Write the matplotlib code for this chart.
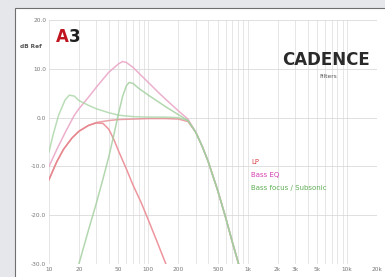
import matplotlib
matplotlib.use("Agg")
import matplotlib.pyplot as plt
from matplotlib.patches import Rectangle

# --- data (frequency in Hz, level in dB) ---
lp_low_freq = [10, 12, 14, 17, 20, 25, 30, 35, 40, 45, 50, 60, 70, 85, 100, 120, 150]
lp_low_db = [-12.7, -9.0, -6.5, -4.2, -2.8, -1.6, -1.1, -1.2, -2.4, -4.5, -6.8,
             -10.5, -13.8, -17.5, -21.0, -25.0, -30.0]

lp_high_freq = [10, 12, 14, 17, 20, 25, 30, 40, 50, 70, 100, 150, 200, 250,
                300, 350, 400, 500, 600, 700, 810]
lp_high_db = [-12.7, -9.0, -6.5, -4.2, -2.8, -1.6, -1.0, -0.6, -0.4, -0.3, -0.2,
              -0.2, -0.3, -0.8, -3.0, -6.0, -9.0, -15.0, -20.5, -25.5, -30.0]

bass_eq_freq = [10, 12, 14.6, 18, 20, 25, 31, 40, 50, 55, 60, 70, 85, 100, 130,
                160, 200, 250, 300, 350, 400, 500, 600, 700, 810]
bass_eq_db = [-10.0, -6.5, -3.0, 0.5, 1.8, 4.2, 6.6, 9.3, 11.0, 11.5, 11.3, 10.3,
              8.6, 7.2, 4.9, 3.2, 1.4, -0.3, -3.0, -6.0, -9.0, -15.0, -20.5,
              -25.5, -30.0]

focus_freq = [10, 11, 12.5, 14.5, 16, 18, 20, 25, 30, 40, 50, 70, 100, 150, 200,
              250, 300, 350, 400, 500, 600, 700, 810]
focus_db = [-7.0, -3.5, 0.5, 3.6, 4.6, 4.4, 3.5, 2.5, 1.8, 1.0, 0.5, 0.2, 0.1,
            0.1, 0.0, -0.6, -3.0, -6.0, -9.0, -15.0, -20.5, -25.5, -30.0]

subsonic_freq = [20, 25, 30, 35, 40, 45, 50, 55, 60, 64, 70, 80, 100, 150, 220,
                 250, 300, 350, 400, 500, 600, 700, 810]
subsonic_db = [-30.0, -23.0, -17.5, -12.5, -8.0, -3.5, 0.8, 4.3, 6.5, 7.2, 7.0,
               6.0, 4.6, 2.2, 0.1, -0.6, -3.0, -6.0, -9.0, -15.0, -20.5, -25.5,
               -30.0]

x_ticks = [10, 20, 50, 100, 200, 500, 1000, 2000, 3000, 5000, 10000, 20000]
x_labels = ["10", "20", "50", "100", "200", "500", "1k", "2k", "3k", "5k", "10k", "20k"]
y_ticks = [-30, -20, -10, 0, 10, 20]
y_labels = ["-30.0", "-20.0", "-10.0", "0.0", "10.0", "20.0"]

legend_names = ["LP", "Bass EQ", "Bass focus / Subsonic"]
legend_colors = ["#d8474d", "#d43fb0", "#5fae55"]

W, H = 385, 277

fig = plt.figure(figsize=(W / 100, H / 100), dpi=100)
fig.patch.set_facecolor("#e5e7eb")
fig.patches.append(Rectangle((15 / W, -0.1), 1.2, 1.1 - 8 / H, transform=fig.transFigure,
                             facecolor="white", edgecolor="#6f6f6f", lw=0.8, zorder=-5))

ax = fig.add_axes([49 / W, 13 / H, 328 / W, 244 / H])
ax.set_facecolor("none")
ax.set_xscale("log")
ax.set_xlim(10, 20000)
ax.set_ylim(-30, 20)

# grid
for dec in [10, 100, 1000, 10000]:
    for m in range(1, 10):
        f = dec * m
        if f > 20000:
            break
        ax.axvline(f, color="#e2e2e2", lw=0.6, zorder=0)
for y in y_ticks:
    ax.axhline(y, color="#dadada", lw=0.6, zorder=0)

for s in ax.spines.values():
    s.set_visible(False)

# curves
ax.plot(lp_low_freq, lp_low_db, color="#ec8a92", lw=1.1, alpha=0.9)
ax.plot(lp_high_freq, lp_high_db, color="#e4828a", lw=1.1, alpha=0.75)
ax.plot(bass_eq_freq, bass_eq_db, color="#e9a2c4", lw=1.1, alpha=0.85)
ax.plot(focus_freq, focus_db, color="#a9d5a6", lw=1.1, alpha=0.8)
ax.plot(subsonic_freq, subsonic_db, color="#9fce9b", lw=1.1, alpha=0.8)

ax.set_xticks(x_ticks)
ax.set_xticklabels(x_labels)
ax.xaxis.set_minor_locator(matplotlib.ticker.NullLocator())
ax.set_yticks(y_ticks)
ax.set_yticklabels(y_labels)
ax.tick_params(length=0, labelsize=4.2, labelcolor="#777777", pad=2)

# texts
fig.text(42 / W, 1 - 47 / H, "dB Ref", fontsize=4.2, color="#555555",
         ha="right", va="center", fontweight="bold")
fig.text(56 / W, 1 - 37 / H, "A", fontsize=12, color="#c0141e", fontweight="bold",
         ha="left", va="center")
fig.text(69 / W, 1 - 37 / H, "3", fontsize=12, color="#1e1e1e", fontweight="bold",
         ha="left", va="center")
fig.text(326 / W, 1 - 60 / H, "CADENCE", fontsize=12, color="#2a2a2a",
         fontweight="bold", ha="center", va="center")
fig.text(328 / W, 1 - 76 / H, "Filters", fontsize=4.2, color="#555555",
         ha="center", va="center")

for i, (name, col) in enumerate(zip(legend_names, legend_colors)):
    fig.text(251 / W, 1 - (162 + 13 * i) / H, name, fontsize=5, color=col,
             ha="left", va="center")

fig.savefig("out.png", dpi=100, facecolor=fig.get_facecolor())
